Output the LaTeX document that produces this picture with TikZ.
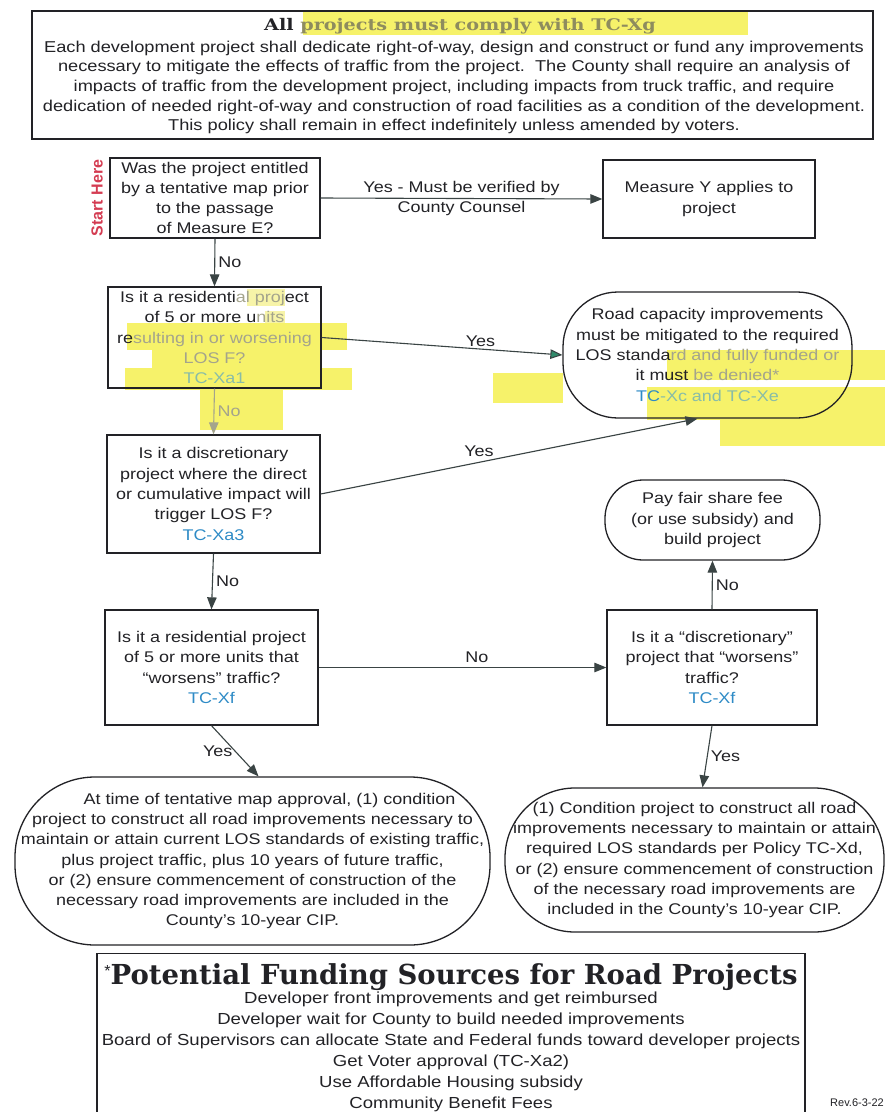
\documentclass[tikz,border=0pt]{standalone}
\usepackage{fontspec}
\setmainfont{Liberation Sans}[FakeStretch=1.16]
\newfontfamily\plainsans{Liberation Sans}
\newfontfamily\slab{DejaVu Serif}
\newfontfamily\slabwide{DejaVu Serif}[FakeStretch=1.2]
\usetikzlibrary{arrows.meta}
\definecolor{ink}{HTML}{222226}
\definecolor{tcblue}{HTML}{2E8BC6}
\definecolor{hl}{HTML}{F6F26A}
\definecolor{hlpale}{HTML}{F7F4A8}
\definecolor{fade}{HTML}{A4A48C}
\definecolor{fadeb}{HTML}{88BCA8}
\definecolor{titlefade}{HTML}{8E8C5E}
\definecolor{starred}{HTML}{D43C52}
\definecolor{arrowc}{HTML}{3A4444}
\definecolor{arrowg}{HTML}{2F8A6A}
\newcommand\flowfont{\fontsize{15.5}{20.3}\selectfont}
\newcommand\topfont{\fontsize{15.7}{19.7}\selectfont}
\newcommand\listfont{\fontsize{16}{21}\selectfont}
\newcommand\fa[1]{\textcolor{fade}{#1}}
\begin{document}
\begin{tikzpicture}[x=1pt,y=-1pt,
  box/.style={draw=ink, line width=1.3pt, align=center, inner sep=0pt, text=ink, font=\flowfont},
  arr/.style={draw=arrowc, line width=1.1pt, -{Triangle[length=12pt,width=9.5pt]}},
  lab/.style={font=\flowfont, text=ink, inner sep=2pt},
  txt/.style={align=center, inner sep=0pt, text=ink}]
\clip (0,0) rectangle (885,1112);
\fill[white] (0,0) rectangle (885,1112);
% highlighter marks
\fill[hl] (303,10) rectangle (748,35);
\fill[hlpale] (247,289) rectangle (285,306);
\fill[hlpale] (265,311) rectangle (285,323);
\fill[hl] (127,323) rectangle (347,350);
\fill[hl] (152,350) rectangle (320,368);
\fill[hl] (125,368) rectangle (352,390);
\fill[hl] (200,390) rectangle (283,430);
\fill[hl] (667,350) rectangle (885,380);
\fill[hl] (493,373) rectangle (563,403);
\fill[hl] (647,387) rectangle (885,420);
\fill[hl] (720,420) rectangle (885,446);
% top policy box
\node[box, minimum width=841pt, minimum height=128pt] (top) at (452.5,75) {};
\node[txt] (toptitle) at (460,26) {\slabwide\bfseries\fontsize{16}{16}\selectfont All \textcolor{titlefade}{projects must comply with TC-Xg}};
\node[txt, font=\topfont] (topbody) at (454,87.5) {Each development project shall dedicate right-of-way, design and construct or fund any improvements\\
necessary to mitigate the effects of traffic from the project.\ \ The County shall require an analysis of\\
impacts of traffic from the development project, including impacts from truck traffic, and require\\
dedication of needed right-of-way and construction of road facilities as a condition of the development.\\
This policy shall remain in effect indefinitely unless amended by voters.};
% start label
\node[txt, rotate=90, text=starred, font=\plainsans\bfseries\fontsize{16}{16}\selectfont] (start) at (97,198) {Start Here};
% flow boxes
\node[box, minimum width=210pt, minimum height=80pt] (q1) at (215,198) {Was the project entitled\\ by a tentative map prior\\ to the passage\\ of Measure E?};
\node[box, minimum width=212pt, minimum height=78pt] (my) at (709,199) {Measure Y applies to\\ project};
\node[box, minimum width=213pt, minimum height=101pt] (q2) at (214.5,337.5) {Is it a residenti\fa{al proj}ect\\ of 5 or more u\fa{nits}\\ re\fa{sulting in or worsening}\\ \fa{LOS F?}\\ \textcolor{fadeb}{TC-Xa1}};
\node[box, minimum width=289pt, minimum height=126pt, rounded corners=55pt] (rc) at (707.5,355) {Road capacity improvements\\ must be mitigated to the required\\ LOS standa\fa{rd and fully funded or}\\ it must \fa{be denied*}\\ \textcolor{tcblue}{TC}\textcolor{fadeb}{-Xc and TC-Xe}};
\node[box, minimum width=213pt, minimum height=118pt] (q3) at (213.5,494) {Is it a discretionary\\ project where the direct\\ or cumulative impact will\\ trigger LOS F?\\ \textcolor{tcblue}{TC-Xa3}};
\node[box, minimum width=215pt, minimum height=80pt, rounded corners=38pt] (pay) at (712.5,520) {Pay fair share fee\\ (or use subsidy) and\\ build project};
\node[box, minimum width=213pt, minimum height=115pt] (q4) at (211.5,667.5) {Is it a residential project\\ of 5 or more units that\\ ``worsens'' traffic?\\ \textcolor{tcblue}{TC-Xf}};
\node[box, minimum width=210pt, minimum height=115pt] (q5) at (712,667.5) {Is it a ``discretionary''\\ project that ``worsens''\\ traffic?\\ \textcolor{tcblue}{TC-Xf}};
\node[box, minimum width=475pt, minimum height=168pt, rounded corners=80pt] (le) at (252.5,861) {\hspace*{34pt}At time of tentative map approval, (1) condition\\ project to construct all road improvements necessary to\\ maintain or attain current LOS standards of existing traffic,\\ plus project traffic, plus 10 years of future traffic,\\ or (2) ensure commencement of construction of the\\ necessary road improvements are included in the\\ County's 10-year CIP.};
\node[box, minimum width=379pt, minimum height=144pt, rounded corners=70pt] (re) at (694.5,860) {(1) Condition project to construct all road\\ improvements necessary to maintain or attain\\ required LOS standards per Policy TC-Xd,\\ or (2) ensure commencement of construction\\ of the necessary road improvements are\\ included in the County's 10-year CIP.};
% connectors
\draw[arr] (q1.east) -- node[lab, above=0pt]{Yes - Must be verified by} node[lab, below=0pt]{County Counsel} (my.west);
\draw[arr] (q1.south) -- node[lab, right=1pt]{No} (q2.north);
\draw[arr, -{Triangle[length=12pt,width=9.5pt,fill=arrowg]}] (q2.east) -- node[lab, pos=0.66, above=0pt]{Yes} (rc.west);
\draw[arr, draw=fade] (q2.south) -- node[lab, right=1pt, text=fade]{No} (q3.north);
\draw[arr] (q3.east) -- node[lab, pos=0.42, above=3pt]{Yes} ([xshift=-10pt]rc.south);
\draw[arr] (q3.south) -- node[lab, right=1pt]{No} (q4.north);
\draw[arr] (q4.east) -- node[lab, pos=0.55, above=2pt]{No} (q5.west);
\draw[arr] (q5.north) -- node[lab, right=1pt]{No} (pay.south);
\draw[arr] (q4.south) -- node[lab, midway, left=0pt]{Yes} ([xshift=6pt]le.north);
\draw[arr] (q5.south) -- node[lab, midway, right=1pt]{Yes} ([xshift=8pt]re.north);
% funding box
\node[box, minimum width=708pt, minimum height=175pt, anchor=north] (fund) at (451,953) {};
\node[txt] (fundtitle) at (451,977) {\plainsans\fontsize{16}{16}\selectfont\raisebox{8pt}{*}\slab\bfseries\fontsize{27.5}{27.5}\selectfont Potential Funding Sources for Road Projects};
\node[txt, font=\listfont, anchor=north] (fundlist) at (451,992) {Developer front improvements and get reimbursed\\
Developer wait for County to build needed improvements\\
Board of Supervisors can allocate State and Federal funds toward developer projects\\
Get Voter approval (TC-Xa2)\\
Use Affordable Housing subsidy\\
Community Benefit Fees};
\node[txt, anchor=east, font=\plainsans\fontsize{11}{11}\selectfont] (rev) at (884,1103) {Rev.6-3-22};
\end{tikzpicture}
\end{document}
